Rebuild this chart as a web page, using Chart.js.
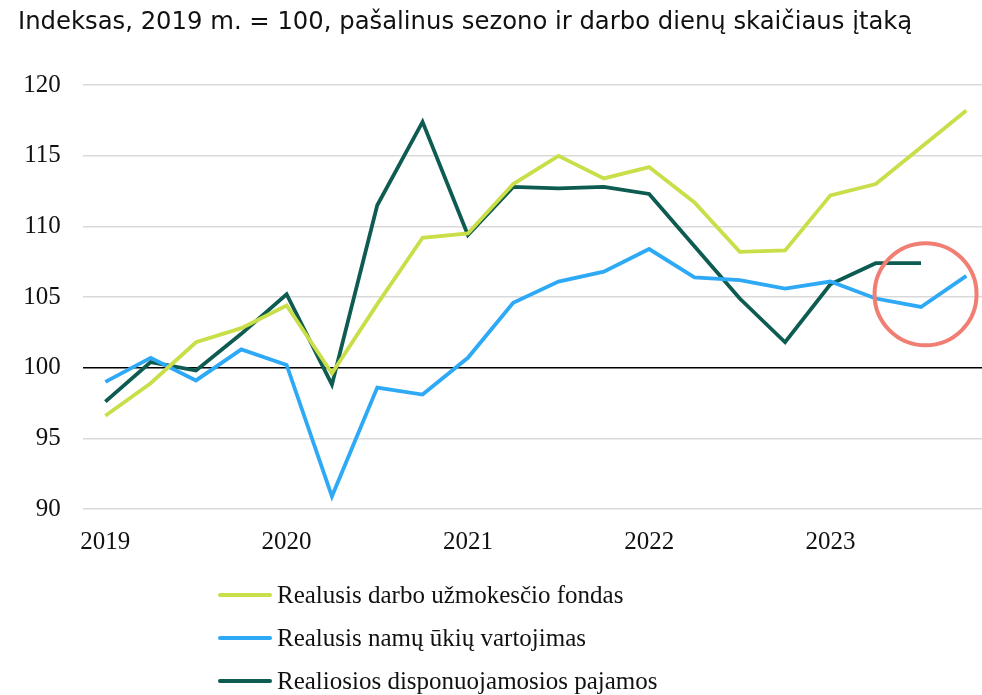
<!DOCTYPE html>
<html>
<head>
<meta charset="utf-8">
<script src="https://cdn.jsdelivr.net/npm/chart.js@4/dist/chart.umd.min.js"></script>
<style>
  body { margin: 0; background: #fff; overflow: hidden; width: 982px; height: 695px; }
  #wrap { position: relative; width: 982px; height: 695px; overflow: hidden; }
  #canvas { position: absolute; left: 0; top: 0; }
  #legend { position: absolute; left: 218px; top: 573px; font-family: "Liberation Serif", serif; font-size: 25px; color: #111; }
  .row { height: 43px; display: flex; align-items: center; }
  .swatch { width: 54px; height: 4px; border-radius: 2px; margin-right: 5px; }
</style>
</head>
<body>
<div id="wrap">
  <canvas id="canvas" width="989" height="579"></canvas>
  <div id="legend"></div>
</div>
<script>
let quarters = ["2019 Q1","2019 Q2","2019 Q3","2019 Q4",
  "2020 Q1","2020 Q2","2020 Q3","2020 Q4",
  "2021 Q1","2021 Q2","2021 Q3","2021 Q4",
  "2022 Q1","2022 Q2","2022 Q3","2022 Q4",
  "2023 Q1","2023 Q2","2023 Q3","2023 Q4"];

let names = ["Realusis darbo užmokesčio fondas", "Realusis namų ūkių vartojimas", "Realiosios disponuojamosios pajamos"];
let colors = ["#C9DE48", "#2EA9F6", "#0D5B51"];

let wageFund = [96.6, 98.9, 101.8, 102.8, 104.4, 99.6, 104.5, 109.2, 109.5, 113.0, 115.0, 113.4, 114.2, 111.7, 108.2, 108.3, 112.2, 113.0, 115.6, 118.2];
let consumption = [99.0, 100.7, 99.1, 101.3, 100.2, 90.9, 98.6, 98.1, 100.7, 104.6, 106.1, 106.8, 108.4, 106.4, 106.2, 105.6, 106.1, 104.9, 104.3, 106.5];
let disposable = [97.6, 100.4, 99.8, 102.4, 105.2, 98.8, 111.5, 117.4, 109.4, 112.8, 112.7, 112.8, 112.3, 108.6, 104.9, 101.8, 105.9, 107.4, 107.4, null];

let titulo = "Indeksas, 2019 m. = 100, pašalinus sezono ir darbo dienų skaičiaus įtaką";
let circleAt = { x: 18.1, y: 105.2, r: 51 };

let circlePlugin = {
  id: "circle",
  afterDatasetsDraw(chart) {
    let c = chart.ctx;
    let px = chart.scales.x.getPixelForValue(circleAt.x);
    let py = chart.scales.y.getPixelForValue(circleAt.y);
    c.save();
    c.beginPath();
    c.arc(px, py, circleAt.r, 0, Math.PI * 2);
    c.lineWidth = 4;
    c.strokeStyle = "#F07E72";
    c.stroke();
    c.restore();
  }
};

let series = [wageFund, consumption, disposable];
let datasets = [];
for (var i = 0; i < series.length; i++) {
  datasets.push({
    label: names[i],
    data: series[i],
    borderColor: colors[i],
    backgroundColor: colors[i],
    borderWidth: 3.8,
    pointRadius: 0,
    tension: 0,
    spanGaps: false
  });
}

let legendHtml = "";
for (var i = 0; i < names.length; i++) {
  legendHtml += "<div class='row'><span class='swatch' style='background:" + colors[i] + "'></span>" + names[i] + "</div>";
}
document.getElementById("legend").innerHTML = legendHtml;

let ctx = document.getElementById("canvas").getContext("2d");
let grafica = new Chart(ctx, {
  type: "line",
  data: { labels: quarters, datasets: datasets },
  plugins: [circlePlugin],
  options: {
    responsive: false,
    animation: false,
    layout: { padding: { left: 18, right: 0, top: 0, bottom: 4 } },
    plugins: {
      legend: { display: false },
      tooltip: { enabled: false },
      title: {
        display: true,
        text: titulo,
        align: "start",
        color: "#111",
        font: { family: "DejaVu Sans", size: 24.3, weight: "normal" },
        padding: { top: 8, bottom: 48 }
      }
    },
    scales: {
      x: {
        offset: true,
        grid: { display: false, drawTicks: false },
        border: { display: false },
        ticks: {
          autoSkip: false,
          maxRotation: 0,
          padding: 18,
          color: "#111",
          font: { family: "Liberation Serif", size: 25 },
          callback: function(v, idx) {
            let q = quarters[idx];
            return q.endsWith("Q1") ? q.slice(0, 4) : "";
          }
        }
      },
      y: {
        min: 90,
        max: 120,
        afterFit: function(scale) { scale.width = 64.7; },
        grid: {
          drawTicks: false,
          lineWidth: 1.6,
          color: function(c) { return c.tick.value === 100 ? "#000" : "#D9D9D9"; }
        },
        border: { display: false },
        ticks: {
          stepSize: 5,
          padding: 22,
          color: "#111",
          font: { family: "Liberation Serif", size: 25 }
        }
      }
    }
  }
});
</script>
</body>
</html>
